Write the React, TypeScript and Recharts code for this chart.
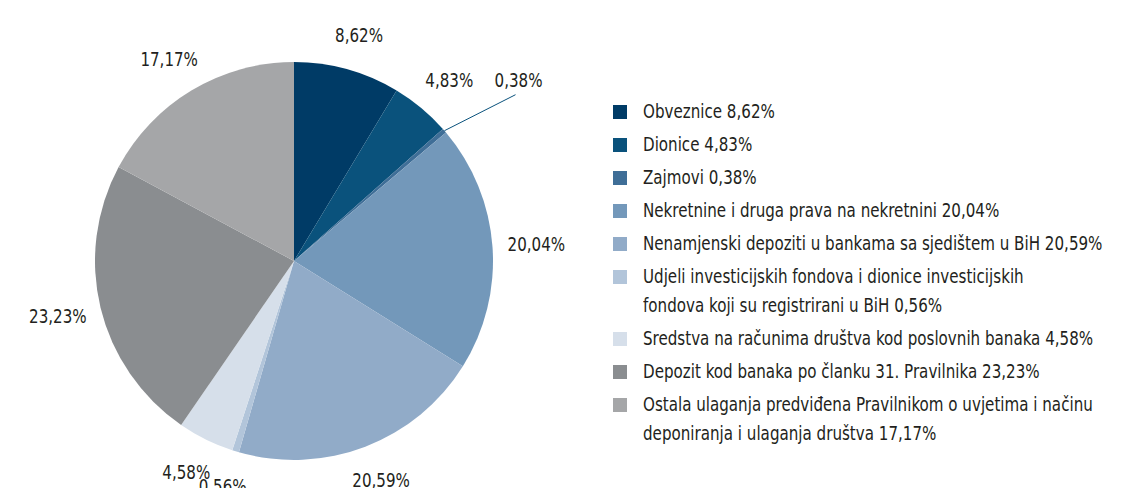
import React from "react";
import { PieChart, Pie, Cell, Legend } from "recharts";

const categories = [
  "Obveznice",
  "Dionice",
  "Zajmovi",
  "Nekretnine i druga prava na nekretnini",
  "Nenamjenski depoziti u bankama sa sjedištem u BiH",
  "Udjeli investicijskih fondova i dionice investicijskih\nfondova koji su registrirani u BiH",
  "Sredstva na računima društva kod poslovnih banaka",
  "Depozit kod banaka po članku 31. Pravilnika",
  "Ostala ulaganja predviđena Pravilnikom o uvjetima i načinu\ndeponiranja i ulaganja društva",
];

const shares = [8.62, 4.83, 0.38, 20.04, 20.59, 0.56, 4.58, 23.23, 17.17];

const colors = [
  "#003b66",
  "#0a527c",
  "#3f6e97",
  "#7398ba",
  "#91abc8",
  "#b2c5da",
  "#d6dfea",
  "#8a8d90",
  "#a5a6a8",
];

const fmt = (v: number) => v.toFixed(2).replace(".", ",") + "%";

const data = categories.map((name, i) => ({ name, value: shares[i] }));

// no condensed Myriad here, so squeeze DejaVu Sans Condensed a bit
const FONT = "'DejaVu Sans Condensed', 'Liberation Sans Narrow', sans-serif";
const SQUEEZE = 0.84;
const RAD = Math.PI / 180;

function PctText({ x, y, value }: { x: number; y: number; value: number }) {
  return (
    <g transform={`translate(${x},${y}) scale(${SQUEEZE},1)`}>
      <text x={0} y={0} textAnchor="middle" dominantBaseline="central"
        fill="#231f20" fontSize={20} fontFamily={FONT}>
        {fmt(value)}
      </text>
    </g>
  );
}

function renderLabel(props: any) {
  const { cx, cy, midAngle, outerRadius, value } = props;
  const cos = Math.cos(-midAngle * RAD);
  const sin = Math.sin(-midAngle * RAD);
  if (value < 0.5) {
    // tiny slice: pull the label out with a leader line
    const x1 = cx + outerRadius * cos;
    const y1 = cy + outerRadius * sin;
    const r2 = outerRadius + 78;
    const a2 = (-midAngle + 4) * RAD;
    const x2 = cx + r2 * Math.cos(a2);
    const y2 = cy + r2 * Math.sin(a2);
    return (
      <g>
        <line x1={x1} y1={y1} x2={x2} y2={y2} stroke="#0a527c" strokeWidth={1} />
        <PctText x={x2 + 3} y={y2 - 15} value={value} />
      </g>
    );
  }
  const r = outerRadius + 30;
  const x = cx + r * cos + 14 * cos;
  const y = cy + r * sin + 6 * sin;
  return <PctText x={x} y={y} value={value} />;
}

function LegendList() {
  return (
    <div style={{ fontFamily: FONT, fontSize: 20, color: "#231f20" }}>
      {data.map((d, i) => {
        const lines = d.name.split("\n");
        return (
          <div key={i} style={{ display: "flex", alignItems: "flex-start", marginBottom: 5 }}>
            <span style={{ width: 14, height: 14, background: colors[i], marginTop: 7, marginRight: 16, flexShrink: 0 }} />
            <div style={{ lineHeight: "29px", marginTop: -1, transform: `scaleX(${SQUEEZE})`, transformOrigin: "left top" }}>
              {lines.map((l, j) => (
                <div key={j} style={{ whiteSpace: "nowrap" }}>
                  {l}
                  {j === lines.length - 1 ? " " + fmt(d.value) : ""}
                </div>
              ))}
            </div>
          </div>
        );
      })}
    </div>
  );
}

export default function App() {
  return (
    <div style={{ position: "absolute", left: 0, top: 0, background: "#fff" }}>
      <PieChart width={1140} height={488} margin={{ top: 0, right: 0, bottom: 0, left: 0 }}>
        <Pie
          data={data}
          dataKey="value"
          nameKey="name"
          cx={294}
          cy={261}
          outerRadius={199}
          startAngle={90}
          endAngle={-270}
          stroke="none"
          label={renderLabel}
          labelLine={false}
          isAnimationActive={false}
        >
          {data.map((_, i) => (
            <Cell key={i} fill={colors[i]} />
          ))}
        </Pie>
        <Legend
          layout="vertical"
          content={() => <LegendList />}
          wrapperStyle={{ left: 613, top: 98, width: 527 }}
        />
      </PieChart>
    </div>
  );
}
